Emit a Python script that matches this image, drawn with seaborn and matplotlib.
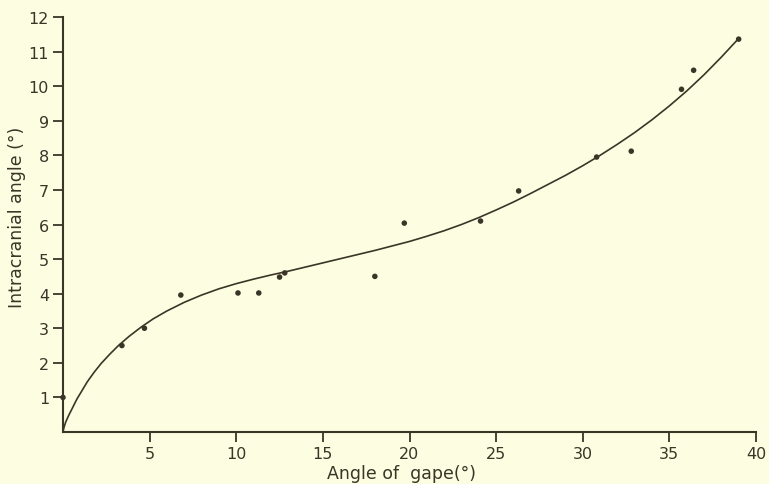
import numpy as np
import pandas as pd
import matplotlib
matplotlib.use("Agg")
import matplotlib.pyplot as plt
import seaborn as sns

# measured points (angle of gape, intracranial angle), degrees
gape = [0.0, 3.4, 4.7, 6.8, 10.1, 11.3, 12.5, 12.8, 18.0, 19.7,
        24.1, 26.3, 30.8, 32.8, 35.7, 36.4, 39.0]
intracranial = [1.0, 2.5, 3.0, 3.96, 4.02, 4.02, 4.48, 4.6, 4.5, 6.04,
                6.1, 6.97, 7.95, 8.12, 9.91, 10.46, 11.36]

# fitted curve
curve_x = [0.0, 0.05, 0.15, 0.3, 0.5, 0.8, 1.1, 1.4, 1.8, 2.2, 2.7, 3.2, 3.8,
           4.5, 5.2, 6.0, 7.0, 8.0, 9.0, 10.0, 11.0, 12.0, 13.0, 14.0, 15.0,
           16.0, 17.0, 18.0, 19.0, 20.0, 21.0, 22.0, 23.0, 24.0, 25.0, 26.0,
           27.0, 28.0, 29.0, 30.0, 31.0, 32.0, 33.0, 34.0, 35.0, 36.0, 37.0,
           38.0, 39.0]
curve_y = [0.0, 0.12, 0.28, 0.45, 0.65, 0.95, 1.2, 1.45, 1.73, 1.98, 2.25,
           2.5, 2.76, 3.03, 3.27, 3.5, 3.75, 3.96, 4.14, 4.29, 4.42, 4.54,
           4.65, 4.77, 4.89, 5.01, 5.13, 5.25, 5.38, 5.51, 5.66, 5.82, 6.00,
           6.20, 6.42, 6.65, 6.90, 7.16, 7.42, 7.70, 8.00, 8.32, 8.66, 9.03,
           9.43, 9.86, 10.33, 10.84, 11.38]

ink = "#3a3527"
paper = "#fdfde1"

sns.set_style("ticks")
plt.rcParams["font.family"] = ["DejaVu Sans"]

fig = plt.figure(figsize=(7.69, 4.85), dpi=100, facecolor=paper)
ax = fig.add_axes([63 / 769, 1 - 433 / 485, 693 / 769, 415 / 485])
ax.set_facecolor(paper)

pts = pd.DataFrame({"gape": gape, "intra": intracranial})
line = pd.DataFrame({"gape": curve_x, "intra": curve_y})

sns.lineplot(data=line, x="gape", y="intra", sort=False, color=ink,
             linewidth=1.2, ax=ax, clip_on=False)
sns.scatterplot(data=pts, x="gape", y="intra", color=ink, s=16,
                edgecolor="none", ax=ax, clip_on=False, zorder=5)

ax.set_xlim(0, 40)
ax.set_ylim(0, 12)
ax.set_xticks([5, 10, 15, 20, 25, 30, 35, 40])
ax.set_yticks(range(1, 13))
ax.tick_params(direction="out", length=7, width=1.3, colors=ink,
               labelsize=11.5, pad=3)
for s in ["left", "bottom"]:
    ax.spines[s].set_color(ink)
    ax.spines[s].set_linewidth(1.5)
sns.despine(ax=ax)

ax.set_xlabel("Angle of  gape(°)", fontsize=12.5, color=ink)
ax.set_ylabel("Intracranial angle (°)", fontsize=12.5, color=ink)
ax.xaxis.set_label_coords(0.488, -0.078)
ax.yaxis.set_label_coords(-0.053, 0.52)

fig.savefig("out.png", dpi=100, facecolor=paper)
